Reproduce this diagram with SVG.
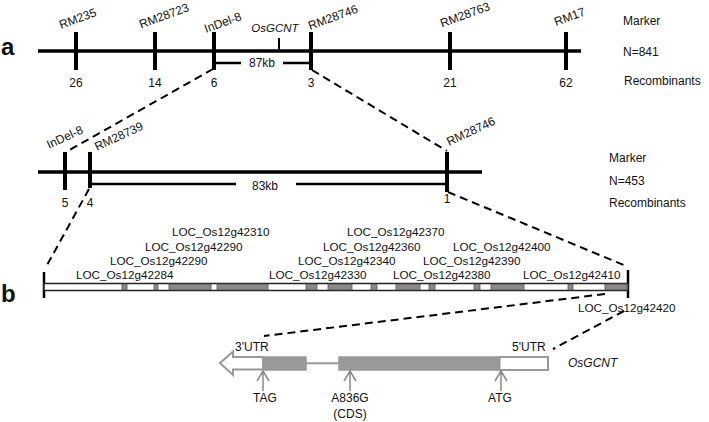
<svg xmlns="http://www.w3.org/2000/svg" width="709" height="422" viewBox="0 0 709 422">
<style>
text{font-family:"Liberation Sans",Arial,sans-serif;font-size:12px;fill:#111}
.lab{font-size:11.7px}
.it{font-style:italic}
.pl{font-weight:bold;font-size:24px}
.mid{text-anchor:middle}
.thick{stroke:#000;stroke-width:3.6;fill:none}
.tick{stroke:#000;stroke-width:4;fill:none}
.thin{stroke:#000;stroke-width:2.5;fill:none}
.dash{stroke:#000;stroke-width:2;stroke-dasharray:8 5;fill:none}
.g{fill:#8a8a8a;stroke:#555;stroke-width:0.8}
.gs{fill:#999;stroke:#999;stroke-width:1.5}
.go{fill:#fff;stroke:#999;stroke-width:2}
.up{stroke:#888;stroke-width:1.5;fill:none}
</style>

<g id="panel-labels">
<text class="pl" x="1" y="55">a</text>
<text class="pl" x="1" y="302">b</text>
</g>

<g id="map-a">
<line class="thick" x1="38" y1="51" x2="581" y2="51"/>
<g id="a-ticks">
<line class="tick" x1="76" y1="32" x2="76" y2="70"/>
<line class="tick" x1="155" y1="32" x2="155" y2="70"/>
<line class="tick" x1="214" y1="32" x2="214" y2="70"/>
<line class="tick" x1="311" y1="32" x2="311" y2="70"/>
<line class="tick" x1="450" y1="32" x2="450" y2="70"/>
<line class="tick" x1="566" y1="32" x2="566" y2="70"/>
<line stroke="#000" stroke-width="2" x1="279" y1="38" x2="279" y2="51"/>
</g>
<text transform="translate(61,29) rotate(-20)">RM235</text>
<text transform="translate(141,28.5) rotate(-20)">RM28723</text>
<text transform="translate(206,33) rotate(-20)">InDel-8</text>
<text transform="translate(310,30) rotate(-20)">RM28746</text>
<text transform="translate(442,27.5) rotate(-20)">RM28763</text>
<text transform="translate(556,26) rotate(-20)">RM17</text>
<text class="it" x="275" y="32" text-anchor="middle" style="font-size:11.5px">OsGCNT</text>
<line class="thin" x1="214" y1="63" x2="241" y2="63"/>
<line class="thin" x1="283" y1="63" x2="311" y2="63"/>
<text class="mid" x="262" y="67">87kb</text>
<text class="mid" x="76" y="87">26</text>
<text class="mid" x="155" y="87">14</text>
<text class="mid" x="214" y="87">6</text>
<text class="mid" x="311" y="87">3</text>
<text class="mid" x="450" y="87">21</text>
<text class="mid" x="566" y="87">62</text>
<text x="623" y="25">Marker</text>
<text x="623" y="56">N=841</text>
<text x="624" y="85">Recombinants</text>
</g>

<g id="map-a2">
<line class="thick" x1="38" y1="172" x2="482" y2="172"/>
<line class="tick" x1="65" y1="152" x2="65" y2="190"/>
<line class="tick" x1="90" y1="152" x2="90" y2="188"/>
<line class="tick" x1="447" y1="152" x2="447" y2="192"/>
<line class="thin" x1="90" y1="184" x2="236" y2="184"/>
<line class="thin" x1="296" y1="184" x2="447" y2="184"/>
<text class="mid" x="265" y="190">83kb</text>
<text transform="translate(49,149) rotate(-25)">InDel-8</text>
<text transform="translate(97,151) rotate(-25)">RM28739</text>
<text transform="translate(449,146) rotate(-25)">RM28746</text>
<text class="mid" x="65" y="207">5</text>
<text class="mid" x="90" y="207">4</text>
<text class="mid" x="447" y="203">1</text>
<text x="609" y="162">Marker</text>
<text x="609" y="185">N=453</text>
<text x="609" y="207">Recombinants</text>
</g>

<g id="connectors">
<line class="dash" x1="213" y1="69" x2="66" y2="152"/>
<line class="dash" x1="312" y1="70" x2="447" y2="151"/>
<line class="dash" x1="89" y1="189" x2="46" y2="267"/>
<line class="dash" x1="448" y1="192" x2="626" y2="266"/>
<line class="dash" x1="605" y1="294" x2="264" y2="336"/>
<line class="dash" x1="624" y1="311" x2="553" y2="349"/>
</g>

<g id="gene-bar">
<line stroke="#000" stroke-width="2.5" x1="44" y1="272" x2="44" y2="298"/>
<line stroke="#000" stroke-width="2.5" x1="628" y1="270" x2="628" y2="298"/>
<rect x="44" y="283.5" width="584" height="7" fill="#fff" stroke="#222" stroke-width="1.5"/>
<rect class="g" x="122" y="284.2" width="5" height="5.6"/>
<rect class="g" x="154" y="284.2" width="4" height="5.6"/>
<rect class="g" x="169" y="284.2" width="42" height="5.6"/>
<rect class="g" x="217" y="284.2" width="51" height="5.6"/>
<rect class="g" x="306" y="284.2" width="11" height="5.6"/>
<rect class="g" x="328" y="284.2" width="24" height="5.6"/>
<rect class="g" x="371" y="284.2" width="6" height="5.6"/>
<rect class="g" x="396" y="284.2" width="24" height="5.6"/>
<rect class="g" x="429" y="284.2" width="6" height="5.6"/>
<rect class="g" x="474" y="284.2" width="6" height="5.6"/>
<rect class="g" x="491" y="284.2" width="33" height="5.6"/>
<rect class="g" x="568" y="284.2" width="5" height="5.6"/>
<rect class="g" x="605" y="284.2" width="22" height="5.6"/>
</g>

<g id="gene-labels" class="lab">
<text class="lab" x="172" y="236">LOC_Os12g42310</text>
<text class="lab" x="145" y="251">LOC_Os12g42290</text>
<text class="lab" x="110" y="265">LOC_Os12g42290</text>
<text class="lab" x="76" y="279">LOC_Os12g42284</text>
<text class="lab" x="347" y="236">LOC_Os12g42370</text>
<text class="lab" x="323" y="251">LOC_Os12g42360</text>
<text class="lab" x="298" y="265">LOC_Os12g42340</text>
<text class="lab" x="269" y="279">LOC_Os12g42330</text>
<text class="lab" x="453" y="251">LOC_Os12g42400</text>
<text class="lab" x="423" y="265">LOC_Os12g42390</text>
<text class="lab" x="393" y="279">LOC_Os12g42380</text>
<text class="lab" x="523" y="279">LOC_Os12g42410</text>
<text class="lab" x="578" y="312">LOC_Os12g42420</text>
</g>

<g id="gene-structure">
<polygon class="go" points="263,357 233,357 233,351.5 220,363 233,375 233,369.5 263,369.5"/>
<line stroke="#999" stroke-width="2" x1="306" y1="363.3" x2="339" y2="363.3"/>
<rect class="gs" x="263" y="357" width="43" height="13"/>
<rect class="gs" x="339" y="357" width="160.5" height="13"/>
<rect class="go" x="499.5" y="357" width="48.5" height="13"/>
<text x="235" y="351">3'UTR</text>
<text x="512" y="351">5'UTR</text>
<text class="it" x="568" y="367">OsGCNT</text>
<path class="up" d="M263,371 V391 M257,381 L263,371 L269,381"/>
<path class="up" d="M350,371 V391 M344,381 L350,371 L356,381"/>
<path class="up" d="M501,371 V391 M495,381 L501,371 L507,381"/>
<text class="mid" x="265" y="402">TAG</text>
<text class="mid" x="350" y="402">A836G</text>
<text class="mid" x="350" y="418">(CDS)</text>
<text class="mid" x="500" y="402">ATG</text>
</g>
</svg>
